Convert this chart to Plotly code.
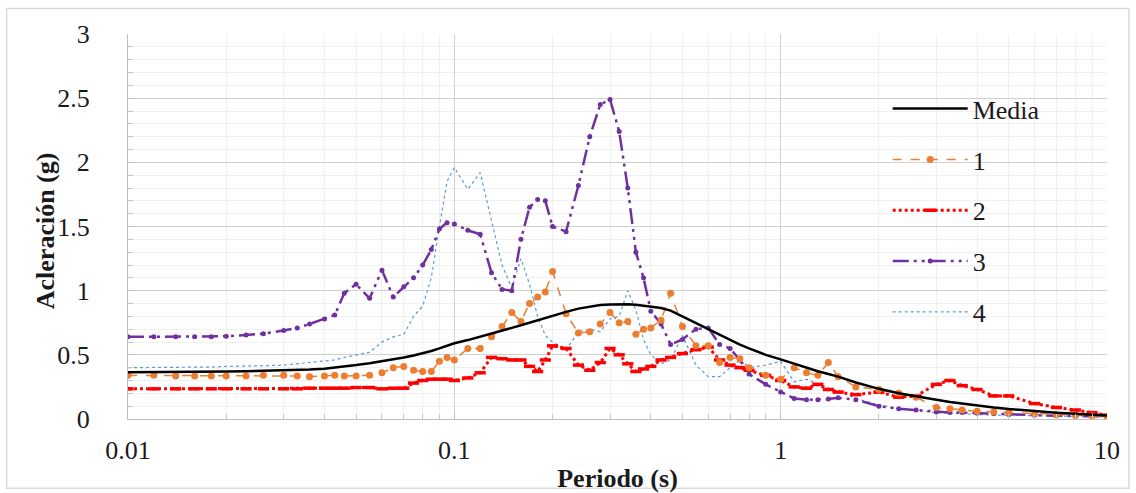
import plotly.graph_objects as go

periodo = [0.01, 0.012, 0.014, 0.016, 0.018, 0.02, 0.023, 0.026, 0.03, 0.033,
           0.036, 0.04, 0.043, 0.046, 0.05, 0.055, 0.06, 0.065, 0.07, 0.075,
           0.08, 0.085, 0.09, 0.095, 0.1, 0.11, 0.12, 0.13, 0.14, 0.15,
           0.16, 0.17, 0.18, 0.19, 0.2, 0.22, 0.24, 0.26, 0.28, 0.3,
           0.32, 0.34, 0.36, 0.38, 0.4, 0.43, 0.46, 0.5, 0.55, 0.6,
           0.65, 0.7, 0.75, 0.8, 0.9, 1.0, 1.1, 1.2, 1.3, 1.4,
           1.5, 1.7, 2.0, 2.3, 2.6, 3.0, 3.3, 3.6, 4.0, 4.5,
           5.0, 6.0, 7.0, 8.0, 9.0, 10.0]

media = [0.365, 0.365, 0.366, 0.367, 0.368, 0.370, 0.372, 0.375, 0.378, 0.382,
         0.386, 0.392, 0.400, 0.408, 0.420, 0.435, 0.450, 0.465, 0.480, 0.495,
         0.510, 0.530, 0.550, 0.570, 0.590, 0.615, 0.640, 0.665, 0.690, 0.710,
         0.730, 0.750, 0.770, 0.790, 0.805, 0.835, 0.860, 0.877, 0.888, 0.893,
         0.895, 0.894, 0.890, 0.884, 0.877, 0.865, 0.845, 0.800, 0.745, 0.700,
         0.655, 0.615, 0.580, 0.550, 0.500, 0.465, 0.430, 0.400, 0.372, 0.350,
         0.330, 0.285, 0.235, 0.200, 0.175, 0.150, 0.133, 0.120, 0.105, 0.090,
         0.078, 0.060, 0.048, 0.040, 0.033, 0.028]

serie_1 = [0.34, 0.34, 0.335, 0.335, 0.335, 0.335, 0.335, 0.34, 0.34, 0.335,
           0.33, 0.335, 0.34, 0.335, 0.335, 0.34, 0.36, 0.40, 0.41, 0.38,
           0.37, 0.37, 0.45, 0.48, 0.46, 0.55, 0.55, 0.64, 0.72, 0.83,
           0.76, 0.90, 0.95, 0.99, 1.15, 0.82, 0.67, 0.68, 0.74, 0.83,
           0.75, 0.76, 0.66, 0.70, 0.71, 0.77, 0.98, 0.72, 0.57, 0.57,
           0.44, 0.48, 0.47, 0.40, 0.34, 0.31, 0.40, 0.36, 0.34, 0.44,
           0.33, 0.25, 0.23, 0.20, 0.17, 0.09, 0.08, 0.07, 0.06, 0.055,
           0.05, 0.04, 0.035, 0.03, 0.025, 0.02]

serie_2 = [0.235, 0.235, 0.235, 0.235, 0.235, 0.235, 0.235, 0.235, 0.235, 0.235,
           0.24, 0.24, 0.24, 0.24, 0.245, 0.245, 0.235, 0.24, 0.24, 0.28,
           0.30, 0.31, 0.31, 0.31, 0.30, 0.32, 0.36, 0.48, 0.47, 0.46,
           0.46, 0.41, 0.37, 0.46, 0.57, 0.55, 0.42, 0.38, 0.44, 0.55,
           0.50, 0.43, 0.37, 0.39, 0.41, 0.46, 0.48, 0.51, 0.54, 0.56,
           0.46, 0.42, 0.40, 0.38, 0.34, 0.30, 0.25, 0.24, 0.27, 0.23,
           0.21, 0.19, 0.21, 0.17, 0.18, 0.27, 0.30, 0.26, 0.23, 0.18,
           0.18, 0.12, 0.09, 0.07, 0.05, 0.03]

serie_3 = [0.64, 0.64, 0.64, 0.64, 0.64, 0.645, 0.655, 0.665, 0.69, 0.71,
           0.74, 0.78, 0.81, 0.98, 1.05, 0.94, 1.16, 0.95, 1.03, 1.10,
           1.20, 1.32, 1.48, 1.53, 1.52, 1.47, 1.44, 1.14, 1.01, 1.00,
           1.40, 1.65, 1.71, 1.70, 1.50, 1.46, 1.82, 2.20, 2.45, 2.49,
           2.24, 1.80, 1.30, 1.10, 0.84, 0.74, 0.58, 0.62, 0.70, 0.71,
           0.58, 0.55, 0.46, 0.35, 0.27, 0.21, 0.16, 0.15, 0.15, 0.155,
           0.165, 0.15, 0.10, 0.08, 0.07, 0.055, 0.05, 0.05, 0.045, 0.04,
           0.035, 0.03, 0.025, 0.022, 0.02, 0.02]

serie_4 = [0.40, 0.40, 0.40, 0.40, 0.405, 0.41, 0.41, 0.415, 0.42, 0.43,
           0.44, 0.45, 0.46, 0.48, 0.50, 0.52, 0.60, 0.64, 0.66, 0.80,
           0.88, 1.10, 1.50, 1.85, 1.96, 1.79, 1.92, 1.55, 1.20, 1.02,
           1.25, 1.05, 0.80, 0.65, 0.60, 0.54, 0.68, 0.70, 0.68, 0.78,
           0.80, 1.00, 0.85, 0.62, 0.50, 0.43, 0.46, 0.65, 0.42, 0.33,
           0.33, 0.40, 0.46, 0.40, 0.42, 0.45, 0.29, 0.31, 0.27, 0.24,
           0.22, 0.16, 0.11, 0.08, 0.065, 0.05, 0.045, 0.04, 0.035, 0.03,
           0.03, 0.025, 0.02, 0.02, 0.018, 0.015]

x_ticks = [0.01, 0.1, 1, 10]
x_tick_text = ["0.01", "0.1", "1", "10"]
y_ticks = [0, 0.5, 1, 1.5, 2, 2.5, 3]
y_tick_text = ["0", "0.5", "1", "1.5", "2", "2.5", "3"]

FONT = "Liberation Serif, Times New Roman, serif"

fig = go.Figure()

fig.add_trace(go.Scatter(
    x=periodo, y=serie_4, name="4", mode="lines", legendrank=5, legendgroup="g4",
    line=dict(color="#5B9BD5", width=1.2, dash="dot")))
fig.add_trace(go.Scatter(
    x=periodo, y=serie_3, name="3", mode="lines+markers", legendrank=4, legendgroup="g3",
    line=dict(color="#7030A0", width=2.5, dash="16px,5px,3px,5px,3px,5px"),
    marker=dict(symbol="circle", size=5, color="#7030A0")))
fig.add_trace(go.Scatter(
    x=periodo, y=serie_2, name="2", mode="lines+markers", legendrank=3, legendgroup="g2",
    line=dict(color="#FF0000", width=3, dash="dot"),
    marker=dict(symbol="line-ew", size=8, color="#FF0000",
                line=dict(color="#FF0000", width=3.5))))
fig.add_trace(go.Scatter(
    x=periodo, y=serie_1, name="1", mode="lines+markers", legendrank=2, legendgroup="g1",
    line=dict(color="#ED7D31", width=1.5, dash="dash"),
    marker=dict(symbol="circle", size=7, color="#ED7D31")))
fig.add_trace(go.Scatter(
    x=periodo, y=media, name="Media", mode="lines", legendrank=1, legendgroup="g0",
    line=dict(color="#000000", width=2.5)))

fig.update_layout(
    width=1136, height=493,
    margin=dict(l=128, r=29, t=34, b=74),
    paper_bgcolor="white", plot_bgcolor="white",
    font=dict(family=FONT, size=26, color="#1a1a1a"),
    showlegend=True,
    legend=dict(
        x=0.776, y=0.867, xanchor="left", yanchor="top",
        bgcolor="rgba(0,0,0,0)", borderwidth=0,
        font=dict(family=FONT, size=26, color="#1a1a1a"),
        tracegroupgap=14, itemwidth=75,
        traceorder="grouped",
    ),
    xaxis=dict(
        type="log", range=[-2, 1], automargin=False,
        tickvals=x_ticks, ticktext=x_tick_text,
        showgrid=True, gridcolor="#d0d0d0", gridwidth=1.3,
        showline=True, linecolor="#bfbfbf", linewidth=1.3,
        ticks="inside", ticklen=6, tickcolor="#bfbfbf",
        ticklabelstandoff=8,
        minor=dict(dtick="D1", ticks="inside", ticklen=5, tickcolor="#c8c8c8",
                   showgrid=True, gridcolor="#f0f0f0", gridwidth=1),
        zeroline=False,
        title=dict(text="<b>Periodo (s)</b>", standoff=6,
                   font=dict(family=FONT, size=26, color="#1a1a1a")),
    ),
    yaxis=dict(
        range=[0, 3], automargin=False,
        tickvals=y_ticks, ticktext=y_tick_text,
        showgrid=True, gridcolor="#d0d0d0", gridwidth=1.3,
        showline=True, linecolor="#bfbfbf", linewidth=1.3,
        ticks="inside", ticklen=6, tickcolor="#bfbfbf",
        ticklabelstandoff=32,
        minor=dict(dtick=0.1, ticks="inside", ticklen=5, tickcolor="#c8c8c8",
                   showgrid=True, gridcolor="#f0f0f0", gridwidth=1),
        zeroline=False,
    ),
    annotations=[dict(text="<b>Acleración (g)</b>", xref="paper", yref="paper",
                      x=-0.0849, y=0.49, xanchor="center", yanchor="middle",
                      textangle=-90, showarrow=False,
                      font=dict(family=FONT, size=26, color="#1a1a1a"))],
    shapes=[dict(type="rect", xref="paper", yref="paper",
                 x0=-0.124, x1=1.0225, y0=-0.18, y1=1.066,
                 line=dict(color="#d9d9d9", width=1.5), fillcolor="rgba(0,0,0,0)",
                 layer="below")],
)

fig.write_html("out.html", config={"displayModeBar": False},
               post_script="document.body.style.margin='0';")
